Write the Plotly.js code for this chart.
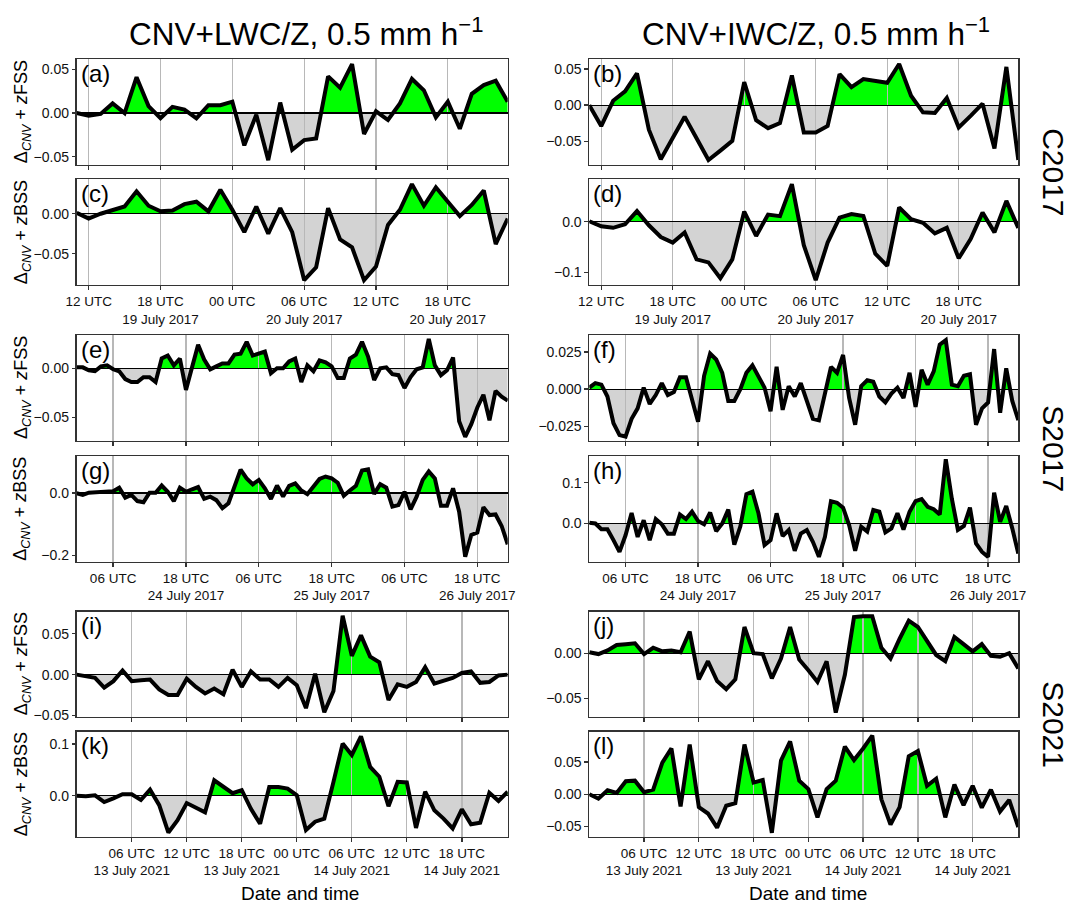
<!DOCTYPE html>
<html><head><meta charset="utf-8">
<script src="https://cdn.plot.ly/plotly-3.0.1.min.js"></script>
<style>html,body{margin:0;padding:0;background:#fff}#chart{width:1073px;height:905px}</style>
</head><body><div id="chart"></div>
<script>
// ---------------- DATA ----------------
// Hourly series start times (UTC) and lengths
const startC2017 = '2017-07-19T11:00';
const startS2017 = '2017-07-24T00:00';
const startS2021 = '2021-07-13T00:00';

// C2017 (37 hourly values)
const valsA = [0.0,-0.003,-0.001,0.011,0.0,0.041,0.008,-0.006,0.007,0.004,
  -0.006,0.009,0.009,0.013,-0.037,-0.002,-0.054,0.012,-0.042,-0.031,
  -0.029,0.042,0.029,0.056,-0.024,0.002,-0.008,0.011,0.039,0.026,
  -0.005,0.013,-0.018,0.022,0.032,0.037,0.013];
const valsB = [0.0,-0.029,0.006,0.019,0.044,-0.034,-0.075,-0.045,-0.016,-0.046,
  -0.076,-0.063,-0.0495,0.032,-0.021,-0.032,-0.025,0.041,-0.038,-0.038,
  -0.029,0.043,0.025,0.036,0.033,0.031,0.057,0.013,-0.010,-0.011,
  0.010,-0.031,-0.015,0.002,-0.060,0.053,-0.076];
const valsC = [0.001,-0.006,0.0,0.004,0.009,0.028,0.010,0.003,0.004,0.012,
  0.015,0.003,0.030,0.005,-0.023,0.009,-0.025,0.007,-0.023,-0.083,
  -0.067,0.007,-0.032,-0.042,-0.083,-0.066,-0.014,0.005,0.037,0.010,
  0.033,0.015,-0.003,0.011,0.029,-0.038,-0.006];
const valsD = [0.001,-0.009,-0.012,-0.005,0.021,-0.007,-0.030,-0.041,-0.021,-0.074,
  -0.080,-0.111,-0.074,0.020,-0.028,0.014,0.011,0.074,-0.046,-0.115,
  -0.041,0.008,0.015,0.011,-0.063,-0.087,0.028,0.005,-0.002,-0.023,
  -0.012,-0.072,-0.034,0.018,-0.021,0.041,-0.012];

// S2017 (72 hourly values)
const valsE = [0.001,0.001,-0.002,-0.003,0.002,0.003,-0.001,-0.003,-0.011,-0.014,
  -0.014,-0.009,-0.009,-0.014,0.010,0.013,0.003,0.010,-0.022,0.0,
  0.024,0.009,-0.001,0.002,0.005,0.005,0.014,0.015,0.027,0.013,
  0.015,0.017,-0.005,0.0,0.0,0.007,0.010,-0.014,0.003,-0.003,
  0.008,0.006,0.002,-0.010,-0.010,0.010,0.014,0.027,0.012,-0.012,
  0.0,0.001,-0.006,-0.007,-0.020,-0.009,-0.001,0.001,0.030,0.003,
  -0.007,-0.002,0.011,-0.054,-0.070,-0.057,-0.040,-0.027,-0.053,-0.023,
  -0.029,-0.033];
const valsF = [0.001,0.004,0.003,-0.005,-0.023,-0.031,-0.032,-0.020,-0.013,0.001,
  -0.010,-0.004,0.004,-0.004,-0.002,0.008,0.008,-0.008,-0.022,0.009,
  0.024,0.020,0.011,-0.008,-0.008,0.0,0.011,0.016,0.009,0.001,
  -0.015,0.015,-0.014,0.002,-0.005,0.004,-0.008,-0.020,-0.021,-0.004,
  0.015,0.011,0.023,-0.006,-0.024,0.002,0.006,0.005,-0.005,-0.009,
  -0.003,0.001,-0.006,0.011,-0.012,0.013,0.003,0.012,0.030,0.033,
  0.003,0.002,0.009,0.010,-0.024,-0.013,-0.009,0.027,-0.016,0.014,
  -0.008,-0.021];
const valsG = [-0.001,-0.006,0.001,0.002,0.004,0.006,0.006,0.017,-0.015,-0.006,
  -0.026,-0.030,0.001,0.001,0.024,0.004,-0.026,0.017,0.004,0.012,
  0.019,-0.019,-0.012,-0.023,-0.049,-0.033,0.026,0.075,0.047,0.028,
  0.042,0.015,-0.019,0.024,-0.011,0.023,0.031,0.008,-0.004,0.020,
  0.045,0.053,0.047,0.033,-0.009,0.008,0.023,0.072,0.076,-0.003,
  0.028,0.017,-0.044,-0.039,0.004,-0.053,-0.012,0.042,0.069,0.047,
  -0.041,-0.041,0.015,-0.060,-0.205,-0.135,-0.127,-0.046,-0.071,-0.069,
  -0.106,-0.165];
const valsH = [0.002,0.0,-0.014,-0.014,-0.041,-0.070,-0.029,0.026,-0.033,0.008,
  -0.041,0.011,-0.002,-0.025,-0.025,0.022,0.011,0.029,0.006,-0.002,
  0.027,-0.019,0.0,0.034,-0.052,-0.007,0.072,0.078,0.025,-0.053,
  -0.041,0.025,-0.031,-0.016,-0.067,-0.025,-0.016,-0.045,-0.082,-0.033,
  0.055,0.051,0.039,-0.004,-0.067,-0.008,-0.020,0.033,0.029,-0.022,
  -0.012,0.025,-0.015,0.029,0.055,0.060,0.041,0.035,0.022,0.158,
  0.061,-0.016,-0.006,0.039,-0.049,-0.070,-0.082,0.076,0.004,0.043,
  -0.012,-0.074];

// S2021 (48 hourly values)
const valsI = [0.0,-0.002,-0.004,-0.016,-0.008,0.005,-0.008,-0.007,-0.006,-0.018,
  -0.025,-0.025,-0.005,-0.015,-0.023,-0.017,-0.024,0.006,-0.015,0.004,
  -0.006,-0.006,-0.015,-0.004,-0.013,-0.041,0.001,-0.046,-0.020,0.072,
  0.023,0.048,0.022,0.015,-0.031,-0.012,-0.015,-0.009,0.009,-0.011,
  -0.007,-0.004,0.002,0.004,-0.010,-0.009,-0.001,0.0];
const valsJ = [0.001,-0.001,0.003,0.009,0.010,0.011,-0.001,0.006,0.002,0.003,
  0.001,0.024,-0.029,-0.009,-0.031,-0.040,-0.029,0.029,0.0,-0.001,
  -0.028,-0.006,0.029,-0.007,-0.019,-0.032,-0.009,-0.066,-0.024,0.040,
  0.041,0.041,0.006,-0.006,0.016,0.036,0.029,0.014,-0.002,-0.009,
  0.018,0.010,0.002,0.010,-0.003,-0.004,0.0,-0.017];
const valsK = [0.0,-0.001,0.001,-0.012,-0.005,0.003,0.003,-0.008,0.012,-0.018,
  -0.071,-0.047,-0.014,-0.023,-0.032,0.030,0.017,0.005,0.011,-0.025,
  -0.054,0.017,0.017,0.014,0.001,-0.066,-0.050,-0.044,0.027,0.101,
  0.079,0.115,0.056,0.037,-0.020,0.027,0.026,-0.062,0.008,-0.028,
  -0.044,-0.063,-0.026,-0.055,-0.052,0.006,-0.010,0.008];
const valsL = [0.0,-0.007,0.006,0.002,0.020,0.021,0.003,0.007,0.049,0.071,
  -0.019,0.077,-0.020,-0.030,-0.052,-0.018,-0.014,0.077,0.018,0.022,
  -0.060,0.052,0.082,0.021,0.008,-0.036,0.008,0.021,0.074,0.053,
  0.071,0.091,-0.008,-0.047,-0.020,0.059,0.067,0.013,0.024,-0.036,
  0.015,-0.017,0.013,-0.021,0.007,-0.027,-0.009,-0.051];

// Tick labels
const tickValsC2017 = ['2017-07-19 12:00','2017-07-19 18:00','2017-07-20 00:00','2017-07-20 06:00','2017-07-20 12:00','2017-07-20 18:00'];
const tickTextC2017 = ['12 UTC','18 UTC<br>19 July 2017','00 UTC','06 UTC<br>20 July 2017','12 UTC','18 UTC<br>20 July 2017'];
const tickValsS2017 = ['2017-07-24 06:00','2017-07-24 18:00','2017-07-25 06:00','2017-07-25 18:00','2017-07-26 06:00','2017-07-26 18:00'];
const tickTextS2017 = ['06 UTC','18 UTC<br>24 July 2017','06 UTC','18 UTC<br>25 July 2017','06 UTC','18 UTC<br>26 July 2017'];
const tickValsS2021 = ['2021-07-13 06:00','2021-07-13 12:00','2021-07-13 18:00','2021-07-14 00:00','2021-07-14 06:00','2021-07-14 12:00','2021-07-14 18:00'];
const tickTextS2021 = ['06 UTC<br>13 July 2021','12 UTC','18 UTC<br>13 July 2021','00 UTC','06 UTC<br>14 July 2021','12 UTC','18 UTC<br>14 July 2021'];

const yTicks = {
  a:[[0.05,0,-0.05],['0.05','0.00','\u22120.05']],
  b:[[0.05,0,-0.05],['0.05','0.00','\u22120.05']],
  c:[[0,-0.05],['0.00','\u22120.05']],
  d:[[0,-0.1],['0.0','\u22120.1']],
  e:[[0,-0.05],['0.00','\u22120.05']],
  f:[[0.025,0,-0.025],['0.025','0.000','\u22120.025']],
  g:[[0,-0.2],['0.0','\u22120.2']],
  h:[[0.1,0],['0.1','0.0']],
  i:[[0.05,0,-0.05],['0.05','0.00','\u22120.05']],
  j:[[0,-0.05],['0.00','\u22120.05']],
  k:[[0.1,0],['0.1','0.0']],
  l:[[0.05,0,-0.05],['0.05','0.00','\u22120.05']]
};
const yRanges = {
  a:[-0.0595,0.0615], b:[-0.083,0.0635], c:[-0.089,0.043], d:[-0.1245,0.0835],
  e:[-0.0742,0.034], f:[-0.035,0.0365], g:[-0.221,0.119], h:[-0.094,0.166],
  i:[-0.0515,0.077], j:[-0.0705,0.046], k:[-0.079,0.124], l:[-0.066,0.097]
};
const columnTitles = ['CNV+LWC/Z, 0.5 mm h<sup>\u22121</sup>','CNV+IWC/Z, 0.5 mm h<sup>\u22121</sup>'];
const rowLabels = ['C2017','S2017','S2021'];

// ---------------- LAYOUT / BUILD ----------------
const W = 1073, H = 905;
const FONT = 'Liberation Sans, Arial, Helvetica, sans-serif';
function hourly(start, n){
  const t0 = Date.parse(start + ':00Z');
  const out = [];
  for (let i = 0; i < n; i++) {
    out.push(new Date(t0 + i*3600000).toISOString().slice(0,16).replace('T',' '));
  }
  return out;
}
const colPx = [[76.7,507.7],[589.3,1018.3]];
const rowPx = [[59.3,165],[179.3,285],[335,441],[456,561.7],[611.7,716.7],[731.7,836.7]];

const groups = [
  {start:startC2017, tv:tickValsC2017, tt:tickTextC2017},
  {start:startS2017, tv:tickValsS2017, tt:tickTextS2017},
  {start:startS2021, tv:tickValsS2021, tt:tickTextS2021}
];
const panels = [
  {id:'a', v:valsA, g:0, row:0, col:0}, {id:'b', v:valsB, g:0, row:0, col:1},
  {id:'c', v:valsC, g:0, row:1, col:0}, {id:'d', v:valsD, g:0, row:1, col:1},
  {id:'e', v:valsE, g:1, row:2, col:0}, {id:'f', v:valsF, g:1, row:2, col:1},
  {id:'g', v:valsG, g:1, row:3, col:0}, {id:'h', v:valsH, g:1, row:3, col:1},
  {id:'i', v:valsI, g:2, row:4, col:0}, {id:'j', v:valsJ, g:2, row:4, col:1},
  {id:'k', v:valsK, g:2, row:5, col:0}, {id:'l', v:valsL, g:2, row:5, col:1}
];

const ax = n => n === 1 ? '' : String(n);
const fillTraces = [], lineTraces = [];
const layout = {
  width:W, height:H, margin:{l:0,r:0,t:0,b:0},
  paper_bgcolor:'#fff', plot_bgcolor:'rgba(0,0,0,0)',
  showlegend:false, font:{family:FONT, color:'#000'},
  annotations:[]
};

panels.forEach((p, k) => {
  const grp = groups[p.g];
  const t = hourly(grp.start, p.v.length);
  const xd = [colPx[p.col][0]/W, colPx[p.col][1]/W];
  const yb = 1 - rowPx[p.row][1]/H, yt = 1 - rowPx[p.row][0]/H;
  const [lo, hi] = yRanges[p.id];
  const fz = yb + (0 - lo)/(hi - lo)*(yt - yb);
  const xr = [t[0], t[t.length-1]];
  const nPos = 2*k+1, nNeg = 2*k+2, nMain = 25 + k;

  // positive (green) fill subplot: clipped to the area above zero
  layout['xaxis'+ax(nPos)] = {domain:xd, range:xr, type:'date', visible:false, fixedrange:true, anchor:'y'+ax(nPos)};
  layout['yaxis'+ax(nPos)] = {domain:[fz, yt], range:[0, hi], visible:false, fixedrange:true, anchor:'x'+ax(nPos)};
  fillTraces.push({x:t, y:p.v, xaxis:'x'+ax(nPos), yaxis:'y'+ax(nPos), type:'scatter', mode:'none',
    fill:'tozeroy', fillcolor:'#00ff00', hoverinfo:'skip'});
  // negative (grey) fill subplot: clipped to the area below zero
  layout['xaxis'+ax(nNeg)] = {domain:xd, range:xr, type:'date', visible:false, fixedrange:true, anchor:'y'+ax(nNeg)};
  layout['yaxis'+ax(nNeg)] = {domain:[yb, fz], range:[lo, 0], visible:false, fixedrange:true, anchor:'x'+ax(nNeg)};
  fillTraces.push({x:t, y:p.v, xaxis:'x'+ax(nNeg), yaxis:'y'+ax(nNeg), type:'scatter', mode:'none',
    fill:'tozeroy', fillcolor:'#d3d3d3', hoverinfo:'skip'});

  const bottom = (p.row % 2 === 1);
  layout['xaxis'+nMain] = {domain:xd, range:xr, type:'date', anchor:'y'+nMain, fixedrange:true,
    tickmode:'array', tickvals:grp.tv, ticktext:grp.tt, showticklabels:bottom, tickangle:0,
    ticks:'outside', ticklen:3.5, tickwidth:1.3, tickcolor:'#333',
    tickfont:{size:13.5, family:FONT, color:'#111'},
    showgrid:true, gridcolor:'#b8b8b8', gridwidth:1.3,
    showline:true, linecolor:'#333', linewidth:1.4, mirror:true, zeroline:false};
  layout['yaxis'+nMain] = {domain:[yb, yt], range:[lo, hi], anchor:'x'+nMain, fixedrange:true,
    tickmode:'array', tickvals:yTicks[p.id][0], ticktext:yTicks[p.id][1], tickangle:0,
    ticks:'outside', ticklen:3.5, tickwidth:1.3, tickcolor:'#333',
    tickfont:{size:14, family:FONT, color:'#111'},
    showgrid:false, zeroline:true, zerolinecolor:'#000', zerolinewidth:1.2,
    showline:true, linecolor:'#333', linewidth:1.4, mirror:true};
  lineTraces.push({x:t, y:p.v, xaxis:'x'+nMain, yaxis:'y'+nMain, type:'scatter', mode:'lines',
    line:{color:'#000', width:4}, hoverinfo:'skip'});

  // panel letter
  layout.annotations.push({xref:'paper', yref:'paper', x:(colPx[p.col][0]+2)/W, y:yt + 1.5/H,
    xanchor:'left', yanchor:'top', showarrow:false, text:'('+p.id+')',
    font:{size:24, family:FONT, color:'#000'}});
  // y-axis title (left column only)
  if (p.col === 0) {
    const metric = bottom ? 'BSS' : 'FSS';
    layout.annotations.push({xref:'paper', yref:'paper', x:22/W, y:(yb+yt)/2,
      xanchor:'center', yanchor:'middle', textangle:-90, showarrow:false,
      text:'\u0394<sub><i>CNV</i></sub> + <i>z</i>'+metric,
      font:{size:18, family:FONT, color:'#000'}});
  }
});

// column titles
layout.annotations.push({xref:'paper', yref:'paper', x:306/W, y:1-32/H, xanchor:'center', yanchor:'middle',
  showarrow:false, text:columnTitles[0], font:{size:31.5, family:FONT, color:'#000'}});
layout.annotations.push({xref:'paper', yref:'paper', x:816/W, y:1-32/H, xanchor:'center', yanchor:'middle',
  showarrow:false, text:columnTitles[1], font:{size:31.5, family:FONT, color:'#000'}});
// row labels
const rowCenters = [(59.3+285)/2, (335+561.7)/2, (611.7+836.7)/2];
rowLabels.forEach((lab, i) => {
  layout.annotations.push({xref:'paper', yref:'paper', x:1054/W, y:1-rowCenters[i]/H,
    xanchor:'center', yanchor:'middle', textangle:90, showarrow:false, text:lab,
    font:{size:30, family:FONT, color:'#000'}});
});
// x-axis titles
[300, 808].forEach(cx => {
  layout.annotations.push({xref:'paper', yref:'paper', x:cx/W, y:0, xanchor:'center', yanchor:'bottom',
    borderpad:0, showarrow:false, text:'Date and time', font:{size:19, family:FONT, color:'#000'}});
});

Plotly.newPlot('chart', fillTraces.concat(lineTraces), layout, {staticPlot:true, displayModeBar:false});
</script></body></html>
